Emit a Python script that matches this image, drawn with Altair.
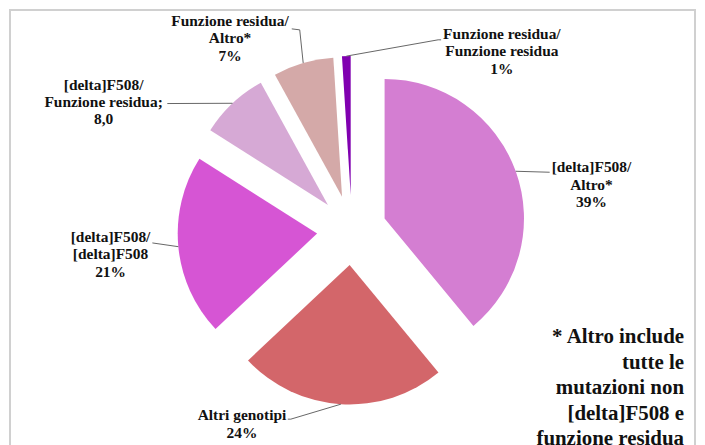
import altair as alt
import pandas as pd

# ---- data ----
labels = [
    "[delta]F508/Altro*",
    "Altri genotipi",
    "[delta]F508/[delta]F508",
    "[delta]F508/Funzione residua",
    "Funzione residua/Altro*",
    "Funzione residua/Funzione residua",
]
label_text = [
    "[delta]F508/\nAltro*",
    "Altri genotipi",
    "[delta]F508/\n[delta]F508",
    "[delta]F508/\nFunzione residua;",
    "Funzione residua/\nAltro*",
    "Funzione residua/\nFunzione residua",
]
values = [39, 24, 21, 8, 7, 1]
value_text = ["39%", "24%", "21%", "8,0", "7%", "1%"]
footnote = ["* Altro include", "tutte le", "mutazioni non", "[delta]F508 e", "funzione residua"]

# ---- style / layout ----
FONT = "Liberation Serif"
colors = ["#d47ed2", "#d3666a", "#d655d4", "#d6a9d5", "#d4a9a8", "#8000b0"]
CX, CY, R, EXPLODE = 345.3, 222.3, 140, 35
label_x = [586, 235, 103, 96, 223, 496]
label_y = [159, 408, 229, 76, 12, 25]
elbow_x = [544, 284, 145, 160, 293, 432]
elbow_y = [164, 412, 235, 95, 21, 31]
end_x = [544, 281, 145, 160, 285, 435]
end_y = [164, 412, 235, 95, 20, 31]

df = pd.DataFrame({
    "label": labels,
    "label_text": label_text,
    "value": values,
    "value_text": value_text,
    "order": list(range(len(labels))),
    "lx": label_x, "ly": label_y,
    "ex": elbow_x, "ey": elbow_y,
    "tx": end_x, "ty": end_y,
})

base = alt.Chart(df).transform_joinaggregate(
    total="sum(value)"
).transform_window(
    cum="sum(value)", sort=[alt.SortField("order")], frame=[None, 0]
).transform_calculate(
    start="(datum.cum - datum.value) / datum.total * 2 * PI",
    end="datum.cum / datum.total * 2 * PI",
).transform_calculate(
    mid="(datum.start + datum.end) / 2"
).transform_calculate(
    px=f"{CX} + {EXPLODE} * sin(datum.mid)",
    py=f"{CY} - {EXPLODE} * cos(datum.mid)",
).transform_calculate(
    sx=f"datum.px + {R} * sin(datum.mid)",
    sy=f"datum.py - {R} * cos(datum.mid)",
    full="datum.label_text + '\\n' + datum.value_text",
)

pie = base.mark_arc(radius=R).encode(
    theta=alt.Theta("start:Q", scale=None, stack=None),
    theta2="end:Q",
    x=alt.X("px:Q", scale=None, axis=None),
    y=alt.Y("py:Q", scale=None, axis=None),
    color=alt.Color("label:N", scale=alt.Scale(domain=labels, range=colors), legend=None),
)

lead1 = base.mark_rule(color="#666666", strokeWidth=1).encode(
    x=alt.X("sx:Q", scale=None), y=alt.Y("sy:Q", scale=None),
    x2="ex:Q", y2="ey:Q",
)
lead2 = base.mark_rule(color="#666666", strokeWidth=1).encode(
    x=alt.X("ex:Q", scale=None), y=alt.Y("ey:Q", scale=None),
    x2="tx:Q", y2="ty:Q",
)

texts = base.mark_text(
    font=FONT, fontWeight="bold", fontSize=15.5, lineHeight=17.5,
    lineBreak="\n", align="center", baseline="middle", color="#111111",
).encode(
    x=alt.X("lx:Q", scale=None), y=alt.Y("ly:Q", scale=None),
    text="full:N",
)

note_df = pd.DataFrame({"t": ["\n".join(footnote)]})
note = alt.Chart(note_df).mark_text(
    font=FONT, fontWeight="bold", fontSize=21, lineHeight=25.5,
    lineBreak="\n", align="right", baseline="middle", color="#111111",
).encode(x=alt.value(679), y=alt.value(330), text="t:N")

frame = alt.Chart(note_df).mark_rect(
    filled=False, stroke="#d0d0d0", strokeWidth=2
).encode(x=alt.value(2), x2=alt.value(690), y=alt.value(1), y2=alt.value(480))

chart = alt.layer(frame, pie, lead1, lead2, texts, note).properties(
    width=692, height=437, autosize="none", padding=0
).configure_view(strokeWidth=0)

chart.save("out.html", embed_options={"renderer": "svg", "actions": False})
